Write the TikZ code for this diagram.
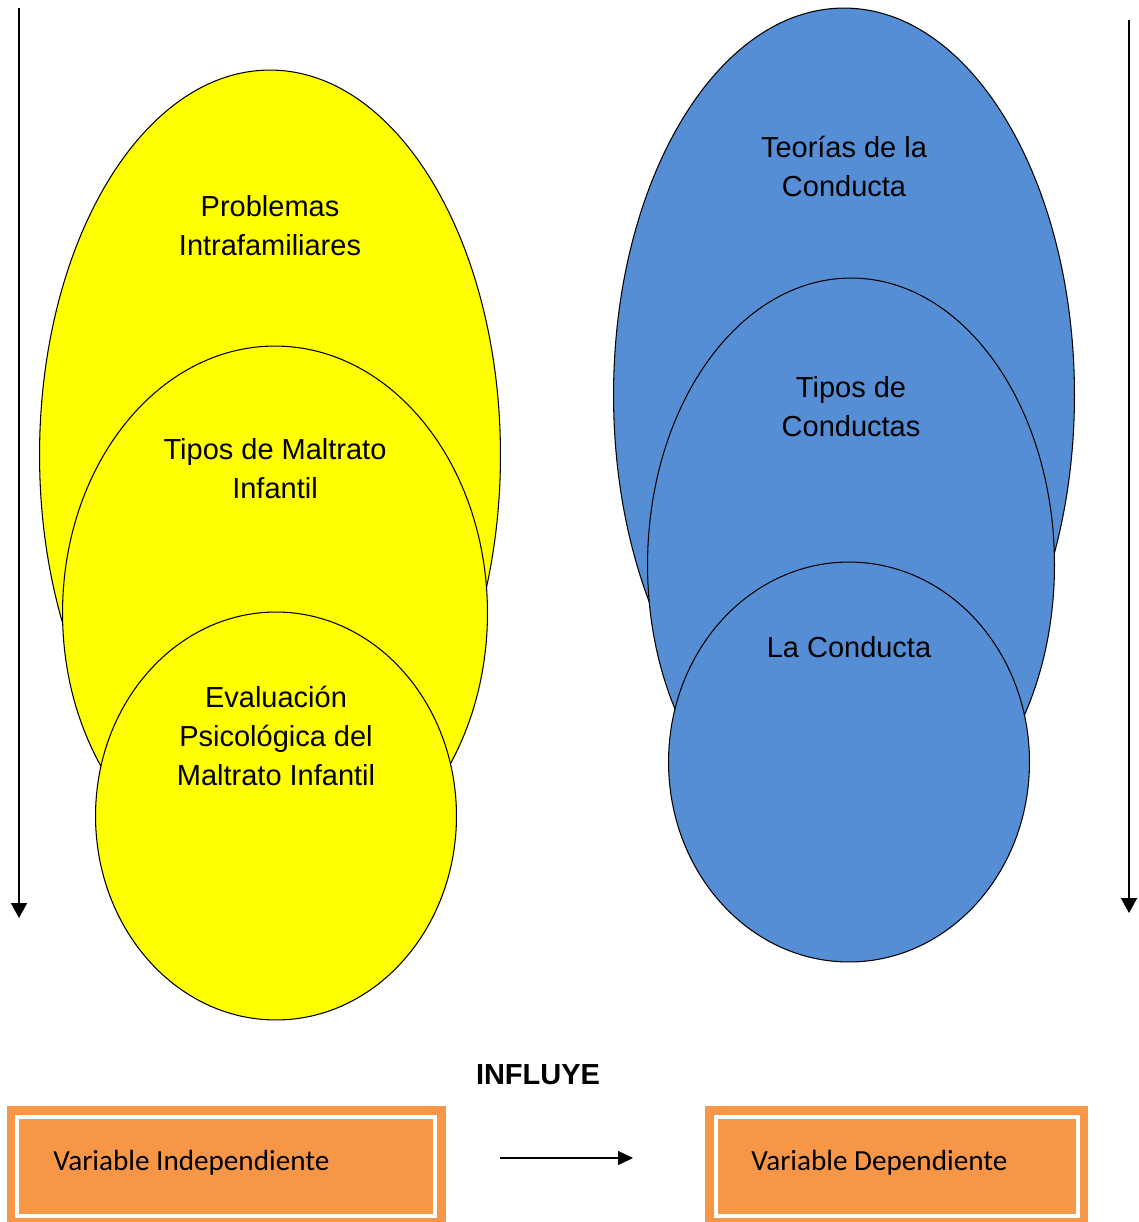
\documentclass[tikz,border=0pt]{standalone}
\usepackage{fontspec}
\setmainfont{Liberation Sans}
\newfontfamily\calibri{Carlito}
\usetikzlibrary{shapes.geometric,arrows.meta}

\definecolor{amarillo}{HTML}{FFFF00}
\definecolor{azul}{HTML}{558ED5}
\definecolor{naranja}{HTML}{F79646}

\tikzset{
	burbuja/.style={ellipse, draw=black, line width=.6pt, inner sep=0pt},
	rotulo/.style={align=center, font=\fontsize{16.5}{22.2}\selectfont},
	flecha/.style={line width=1.1pt, -{Triangle[length=0.3cm, width=0.32cm]}},
	cajafuera/.style={rectangle, fill=naranja, inner sep=0pt},
	cajadentro/.style={rectangle, draw=white, line width=2.3pt, inner sep=0pt},
	textovar/.style={anchor=west, inner sep=0pt, font=\calibri\fontsize{16.6}{20}\selectfont}
}

\begin{document}
\begin{tikzpicture}[x=0.02cm, y=-0.02cm]
	\useasboundingbox (0,0) rectangle (1138,1222);

	% columna izquierda
	\node[burbuja, fill=amarillo, minimum width=9.22cm, minimum height=15.4cm] (e1) at (270,455) {};
	\node[burbuja, fill=amarillo, minimum width=8.5cm, minimum height=10.68cm] (e2) at (275,613) {};
	\node[burbuja, fill=amarillo, minimum width=7.22cm, minimum height=8.16cm] (e3) at (276,816) {};
	\node[rotulo] (t1) at (270,226) {Problemas\\Intrafamiliares};
	\node[rotulo] (t2) at (275,469) {Tipos de Maltrato\\Infantil};
	\node[rotulo] (t3) at (276,736) {Evaluación\\Psicológica del\\Maltrato Infantil};

	% columna derecha
	\node[burbuja, fill=azul, minimum width=9.22cm, minimum height=15.48cm] (f1) at (844,395) {};
	\node[burbuja, fill=azul, minimum width=8.14cm, minimum height=11.48cm] (f2) at (851,565) {};
	\node[burbuja, fill=azul, minimum width=7.22cm, minimum height=8cm] (f3) at (849,762) {};
	\node[rotulo] (s1) at (844,166) {Teorías de la\\Conducta};
	\node[rotulo] (s2) at (851,407) {Tipos de\\Conductas};
	\node[rotulo] (s3) at (849,647) {La Conducta};

	% flechas laterales
	\coordinate (izqa) at (19,8);
	\coordinate (izqb) at (19,918);
	\coordinate (dera) at (1129,20);
	\coordinate (derb) at (1129,913);
	\draw[flecha] (izqa) -- (izqb);
	\draw[flecha] (dera) -- (derb);

	% variables
	\node[font=\bfseries\fontsize{16.5}{20}\selectfont] (influye) at (538,1075) {INFLUYE};
	\node[cajafuera, minimum width=8.78cm, minimum height=2.32cm] (vi) at (226.5,1164) {};
	\node[cajadentro, minimum width=8.36cm, minimum height=1.98cm] (vii) at (226,1166.5) {};
	\node[cajafuera, minimum width=7.66cm, minimum height=2.32cm] (vd) at (896.5,1164) {};
	\node[cajadentro, minimum width=7.25cm, minimum height=1.98cm] (vdi) at (896.75,1166.5) {};
	\node[textovar] (tvi) at (53,1163) {Variable Independiente};
	\node[textovar] (tvd) at (751,1163) {Variable Dependiente};
	\coordinate (ma) at (500,1158);
	\coordinate (mb) at (633,1158);
	\draw[line width=.8pt, -{Triangle[length=0.3cm, width=0.28cm]}] (ma) -- (mb);
\end{tikzpicture}
\end{document}
